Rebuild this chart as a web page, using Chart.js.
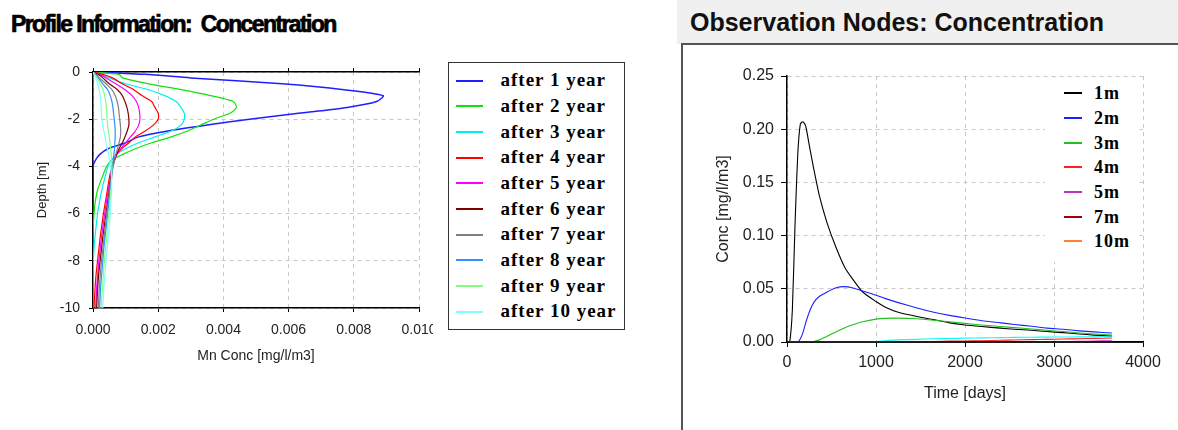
<!DOCTYPE html>
<html><head><meta charset="utf-8">
<script src="https://cdn.jsdelivr.net/npm/chart.js@4.4.1/dist/chart.umd.min.js"></script>
<style>
html,body{margin:0;padding:0;background:#fff;}
#page{position:relative;width:1178px;height:430px;overflow:hidden;background:#fff;font-family:'Liberation Sans',Arial,sans-serif;}
#t1{position:absolute;left:11px;top:13px;font-size:23px;font-weight:bold;letter-spacing:-1.6px;line-height:23px;white-space:pre;color:#000;-webkit-text-stroke:0.7px #000;}
#hdr{position:absolute;left:677px;top:0;width:501px;height:44px;background:#f0f0f0;}
#t2{position:absolute;left:690px;top:10px;font-size:25px;font-weight:bold;line-height:25px;white-space:pre;color:#111;}
#frame{position:absolute;left:681px;top:43px;width:520px;height:400px;border-left:2px solid #555;border-top:2px solid #555;background:#fff;}
#c1{position:absolute;left:0;top:40px;}
#c2{position:absolute;left:683px;top:45px;}
#leg1{position:absolute;left:448px;top:62px;width:175px;height:266px;border:1.5px solid #333;background:#fff;}
#leg2{position:absolute;left:1045px;top:78px;width:93px;height:184px;background:#fff;}
.row{position:absolute;white-space:pre;font-family:'Liberation Serif','Times New Roman',serif;font-weight:bold;color:#000;line-height:20px;}
.sw{position:absolute;}
</style>
</head><body>
<div id="page">
  <div id="t1">Profile Information:  Concentration</div>
  <div id="hdr"></div>
  <div id="t2">Observation Nodes: Concentration</div>
  <div id="frame"></div>
  <canvas id="c1" width="433" height="390"></canvas>
  <canvas id="c2" width="495" height="385"></canvas>
  <div id="leg1"></div>
  <div id="leg2"></div>
</div>
<script>
// ---------- Profile chart data (depth profiles) ----------
const depths = [0,-0.1,-0.25,-0.5,-0.75,-1,-1.25,-1.5,-1.75,-2,-2.25,-2.5,-2.75,-3,-3.25,-3.5,-3.75,-4,-4.5,-5,-5.5,-6,-6.5,-7,-7.5,-8,-8.5,-9,-9.5,-10];
const profileLabels = ['after 1 year','after 2 year','after 3 year','after 4 year','after 5 year','after 6 year','after 7 year','after 8 year','after 9 year','after 10 year'];
const year1  = [0,0.0016,0.003,0.0058,0.0077,0.0089,0.0087,0.0078,0.0063,0.0048,0.0035,0.0023,0.0014,0.001,0.00046,0.0002,0.00007,0,0,0,0,0,0,0,0,0,0,0,0,0];
const year2  = [0,0.0008,0.0009,0.0017,0.0027,0.0036,0.0043,0.0044,0.0042,0.0037,0.0033,0.0029,0.0024,0.0018,0.0013,0.0009,0.00056,0.00042,0.00027,0.00014,0.00007,0.00003,0.00001,0,0,0,0,0,0,0];
const year3  = [0,0.0002,0.0005,0.001,0.0017,0.0022,0.00255,0.0027,0.0028,0.0028,0.0027,0.0024,0.0019,0.0014,0.001,0.0007,0.00056,0.00046,0.00036,0.00027,0.0002,0.00014,0.0001,0.00006,0.00003,0.00001,0,0,0,0];
const year4  = [0,0.0003,0.0006,0.0009,0.00125,0.0015,0.0018,0.0019,0.002,0.002,0.00185,0.0016,0.0013,0.0011,0.00088,0.00072,0.00064,0.00058,0.0005,0.00044,0.00038,0.00032,0.00027,0.00022,0.00018,0.00014,0.0001,0.00007,0.00005,0.00003];
const year5  = [0,0.0002,0.0004,0.0007,0.00098,0.0012,0.00133,0.0014,0.00143,0.00144,0.0014,0.0013,0.00115,0.001,0.00085,0.00073,0.00065,0.0006,0.00053,0.00047,0.00041,0.00036,0.00031,0.00026,0.00022,0.00018,0.00015,0.00012,0.0001,0.00008];
const year6  = [0,0.00015,0.0003,0.0005,0.00075,0.0009,0.00098,0.00104,0.00108,0.0011,0.0011,0.00105,0.00098,0.0009,0.0008,0.00072,0.00066,0.0006,0.00055,0.0005,0.00045,0.0004,0.00035,0.0003,0.00026,0.00022,0.00018,0.00015,0.00013,0.00011];
const year7  = [0,0.0001,0.0002,0.0004,0.00058,0.00068,0.00074,0.00078,0.0008,0.00082,0.00084,0.00085,0.00084,0.0008,0.00075,0.0007,0.00066,0.00062,0.00056,0.00051,0.00047,0.00042,0.00038,0.00034,0.0003,0.00026,0.00023,0.0002,0.00018,0.00016];
const year8  = [0,0.00008,0.00016,0.0003,0.00045,0.00053,0.00058,0.00061,0.00063,0.00065,0.00067,0.00068,0.00068,0.00067,0.00066,0.00064,0.00062,0.0006,0.00057,0.00053,0.00049,0.00045,0.00041,0.00037,0.00033,0.0003,0.00027,0.00024,0.00022,0.0002];
const year9  = [0,0.00005,0.00012,0.00022,0.00031,0.00036,0.00039,0.00041,0.00042,0.00043,0.00045,0.00047,0.0005,0.00052,0.00054,0.00056,0.00057,0.00058,0.00057,0.00055,0.00052,0.00049,0.00045,0.00042,0.00038,0.00035,0.00032,0.0003,0.00027,0.00025];
const year10 = [0,0.00003,0.00008,0.00014,0.00019,0.00022,0.00024,0.00025,0.00026,0.00027,0.0003,0.00033,0.00037,0.0004,0.00044,0.00048,0.00051,0.00054,0.00057,0.00057,0.00055,0.00053,0.0005,0.00047,0.00043,0.0004,0.00037,0.00034,0.00032,0.0003];
const profileSeries = [year1,year2,year3,year4,year5,year6,year7,year8,year9,year10];
const profileXTicks = [0,0.002,0.004,0.006,0.008,0.010];
const profileYTicks = [0,-2,-4,-6,-8,-10];

// ---------- Observation nodes data (time series) ----------
const days = [0,30,60,90,120,150,180,210,250,300,365,450,550,650,730,850,1000,1100,1250,1460,1650,1825,2000,2190,2400,2555,2750,2920,3100,3285,3450,3650];
const nodeLabels = ['1m','2m','3m','4m','5m','7m','10m',''];
const node1m  = [0,0,0.03,0.11,0.175,0.205,0.207,0.203,0.185,0.163,0.137,0.112,0.089,0.07,0.06,0.047,0.038,0.033,0.028,0.024,0.021,0.018,0.016,0.0145,0.013,0.012,0.011,0.0098,0.0088,0.0075,0.0065,0.0055];
const node2m  = [0,0,0,0,0,0.003,0.009,0.018,0.028,0.037,0.043,0.047,0.051,0.052,0.051,0.048,0.044,0.041,0.037,0.032,0.028,0.025,0.0225,0.02,0.018,0.0165,0.0148,0.013,0.012,0.0105,0.0095,0.0085];
const node3m  = [0,0,0,0,0,0,0,0,0,0.0005,0.002,0.0055,0.0095,0.0135,0.016,0.019,0.0215,0.0222,0.0224,0.0218,0.0205,0.019,0.0175,0.016,0.0145,0.0135,0.0122,0.011,0.0098,0.0085,0.0075,0.0065];
const node4m  = [0,0,0,0,0,0,0,0,0,0,0,0,0,0,0,0,0,0,0,0,0.0005,0.0008,0.001,0.0012,0.0016,0.0019,0.0022,0.0025,0.0028,0.0031,0.0034,0.0037];
const node5m  = [0,0,0,0,0,0,0,0,0,0,0,0,0,0,0,0,0,0,0,0,0,0,0,0,0,0,0,0,0.0002,0.0006,0.0009,0.0012];
const node7m  = [0,0,0,0,0,0,0,0,0,0,0,0,0,0,0,0,0,0,0,0,0,0,0,0,0,0,0,0,0,0,0.0001,0.0003];
const node10m = [0,0,0,0,0,0,0,0,0,0,0,0,0,0,0,0,0,0,0,0,0,0,0,0,0,0,0,0,0,0,0,0];
const nodeExtra = [0,0,0,0,0,0,0,0,0,0,0,0,0,0,0,0,0.0005,0.0012,0.002,0.0025,0.003,0.0033,0.0036,0.0039,0.0041,0.0043,0.0045,0.0046,0.0047,0.0048,0.0049,0.005];
const nodeSeries = [node1m,node2m,node3m,node4m,node5m,node7m,node10m,nodeExtra];
const nodeXTicks = [0,1000,2000,3000,4000];
const nodeYTicks = [0,0.05,0.10,0.15,0.20,0.25];

// ---------- styles ----------
const profileColors = ['#1f1fff','#10e010','#00f0f0','#ff0000','#ff00ff','#800000','#808080','#3090ff','#80ff80','#80ffff'];
const nodeColors = ['#000000','#2020ff','#20c020','#ff2020','#c030c0','#a00000','#ff8030','#00ffff'];

Chart.defaults.font.family = "'Liberation Sans', Arial, sans-serif";
Chart.defaults.color = '#222';

const gridCol = '#c8c8c8';

const chart1 = new Chart(document.getElementById('c1'), {
  type: 'scatter',
  data: {
    datasets: profileSeries.map((vals, i) => ({
      label: profileLabels[i],
      data: depths.map((d, k) => ({x: vals[k], y: d})),
      showLine: true,
      borderColor: profileColors[i],
      backgroundColor: profileColors[i],
      borderWidth: i === 0 ? 1.5 : 1.2,
      tension: 0.25,
      pointRadius: 0, pointHoverRadius: 0,
      order: profileSeries.length - i
    }))
  },
  options: {
    responsive: false, animation: false, events: [],
    layout: {padding: {left: 0, right: 14, top: 26, bottom: 0}},
    plugins: {legend: {display: false}, tooltip: {enabled: false}},
    scales: {
      x: {
        type: 'linear', position: 'bottom', min: 0, max: 0.01,
        afterBuildTicks: s => { s.ticks = profileXTicks.map(v => ({value: v})); },
        ticks: {callback: v => Number(v).toFixed(3), font: {size: 14}, color: '#222', padding: 9.5, maxRotation: 0, autoSkip: false},
        grid: {color: gridCol, tickColor: '#000', tickLength: 4, lineWidth: 1},
        border: {display: true, color: '#000', width: 1.5, dash: [4, 4]},
        title: {display: true, text: 'Mn Conc [mg/l/m3]', font: {size: 14}, color: '#222', padding: {top: 0, bottom: 65}},
        afterFit: s => { s.height = 122; s.paddingRight = 0; s.paddingLeft = 0; }
      },
      x2: {
        type: 'linear', position: 'top', min: 0, max: 0.01,
        afterBuildTicks: s => { s.ticks = profileXTicks.map(v => ({value: v})); },
        ticks: {display: false},
        grid: {drawOnChartArea: false, tickColor: '#000', tickLength: 4},
        border: {display: true, color: '#000', width: 1.5},
        afterFit: s => { s.height = 6; s.paddingRight = 0; s.paddingLeft = 0; }
      },
      y: {
        type: 'linear', min: -10, max: 0,
        afterBuildTicks: s => { s.ticks = profileYTicks.map(v => ({value: v})); },
        ticks: {font: {size: 14}, color: '#222', padding: 9},
        grid: {color: gridCol, tickColor: '#000', tickLength: 4},
        border: {display: true, color: '#000', width: 1.5, dash: [4, 4]},
        title: {display: true, text: 'Depth [m]', font: {size: 13}, color: '#222', padding: {top: 35, bottom: 0}},
        afterFit: s => { s.width = 93; }
      }
    }
  }
});

const axisRedraw = {
  id: 'axisRedraw',
  afterDatasetsDraw(chart) {
    const {ctx, chartArea, scales} = chart;
    const y0 = scales.y.getPixelForValue(0);
    ctx.save();
    ctx.strokeStyle = '#000';
    ctx.lineWidth = 1.5;
    ctx.beginPath();
    ctx.moveTo(chartArea.left, y0);
    ctx.lineTo(chartArea.right, y0);
    ctx.stroke();
    ctx.restore();
  }
};

const chart2 = new Chart(document.getElementById('c2'), {
  type: 'scatter',
  data: {
    datasets: nodeSeries.map((vals, i) => ({
      label: nodeLabels[i],
      data: days.map((t, k) => ({x: t, y: vals[k]})),
      showLine: true,
      borderColor: nodeColors[i],
      backgroundColor: nodeColors[i],
      borderWidth: 1.1,
      tension: 0.2,
      pointRadius: 0, pointHoverRadius: 0,
      order: nodeSeries.length - i
    }))
  },
  options: {
    responsive: false, animation: false, events: [],
    layout: {padding: {left: 0, right: 35, top: 31, bottom: 0}},
    plugins: {legend: {display: false}, tooltip: {enabled: false}},
    scales: {
      x: {
        type: 'linear', min: 0, max: 4000,
        afterBuildTicks: s => { s.ticks = nodeXTicks.map(v => ({value: v})); },
        ticks: {font: {size: 16}, color: '#222', padding: 6, maxRotation: 0, autoSkip: false, callback: v => String(v)},
        grid: {color: gridCol, tickColor: '#000', tickLength: 5},
        border: {display: true, color: '#000', width: 1.5, dash: [4, 4]},
        title: {display: true, text: 'Time [days]', font: {size: 16}, color: '#222', padding: {top: 0, bottom: 27}},
        afterFit: s => { s.height = 88; }
      },
      y: {
        type: 'linear', min: 0, max: 0.25,
        afterBuildTicks: s => { s.ticks = nodeYTicks.map(v => ({value: v})); },
        ticks: {font: {size: 16}, color: '#222', padding: 7, callback: v => Number(v).toFixed(2)},
        grid: {color: gridCol, tickColor: '#000', tickLength: 6},
        border: {display: true, color: '#000', width: 1.5, dash: [4, 4]},
        title: {display: true, text: 'Conc [mg/l/m3]', font: {size: 16}, color: '#222', padding: {top: 31, bottom: 0}},
        afterFit: s => { s.width = 104; }
      }
    }
  },
  plugins: [axisRedraw]
});

// ---------- HTML legends built from the chart datasets ----------
function buildLegend(chart, el, o) {
  let idx = 0;
  chart.data.datasets.forEach((ds, i) => {
    if (!ds.label) return;
    const base = o.base + idx * o.step;
    const sw = document.createElement('div');
    sw.className = 'sw';
    sw.style.left = o.swLeft + 'px';
    sw.style.width = o.swWidth + 'px';
    sw.style.top = Math.round(base - o.swUp) + 'px';
    sw.style.height = o.swThick + 'px';
    sw.style.backgroundColor = o.colors[i];
    el.appendChild(sw);
    const tx = document.createElement('div');
    tx.className = 'row';
    tx.textContent = ds.label;
    tx.style.left = o.textLeft + 'px';
    tx.style.top = (base - o.baseOff) + 'px';
    tx.style.fontSize = o.fontSize + 'px';
    tx.style.letterSpacing = o.ls + 'px';
    el.appendChild(tx);
    idx++;
  });
}
// coordinates relative to each legend box
buildLegend(chart1, document.getElementById('leg1'), {colors: profileColors, base: 87.3 - 63.5, step: 25.67, swLeft: 7, swWidth: 27, swUp: 7, swThick: 2, textLeft: 51.5, baseOff: 16.4, fontSize: 19, ls: 1});
buildLegend(chart2, document.getElementById('leg2'), {colors: nodeColors, base: 99.3 - 78, step: 24.67, swLeft: 19, swWidth: 18, swUp: 7, swThick: 2, textLeft: 49, baseOff: 16.1, fontSize: 18, ls: 1});
</script>
</body></html>
